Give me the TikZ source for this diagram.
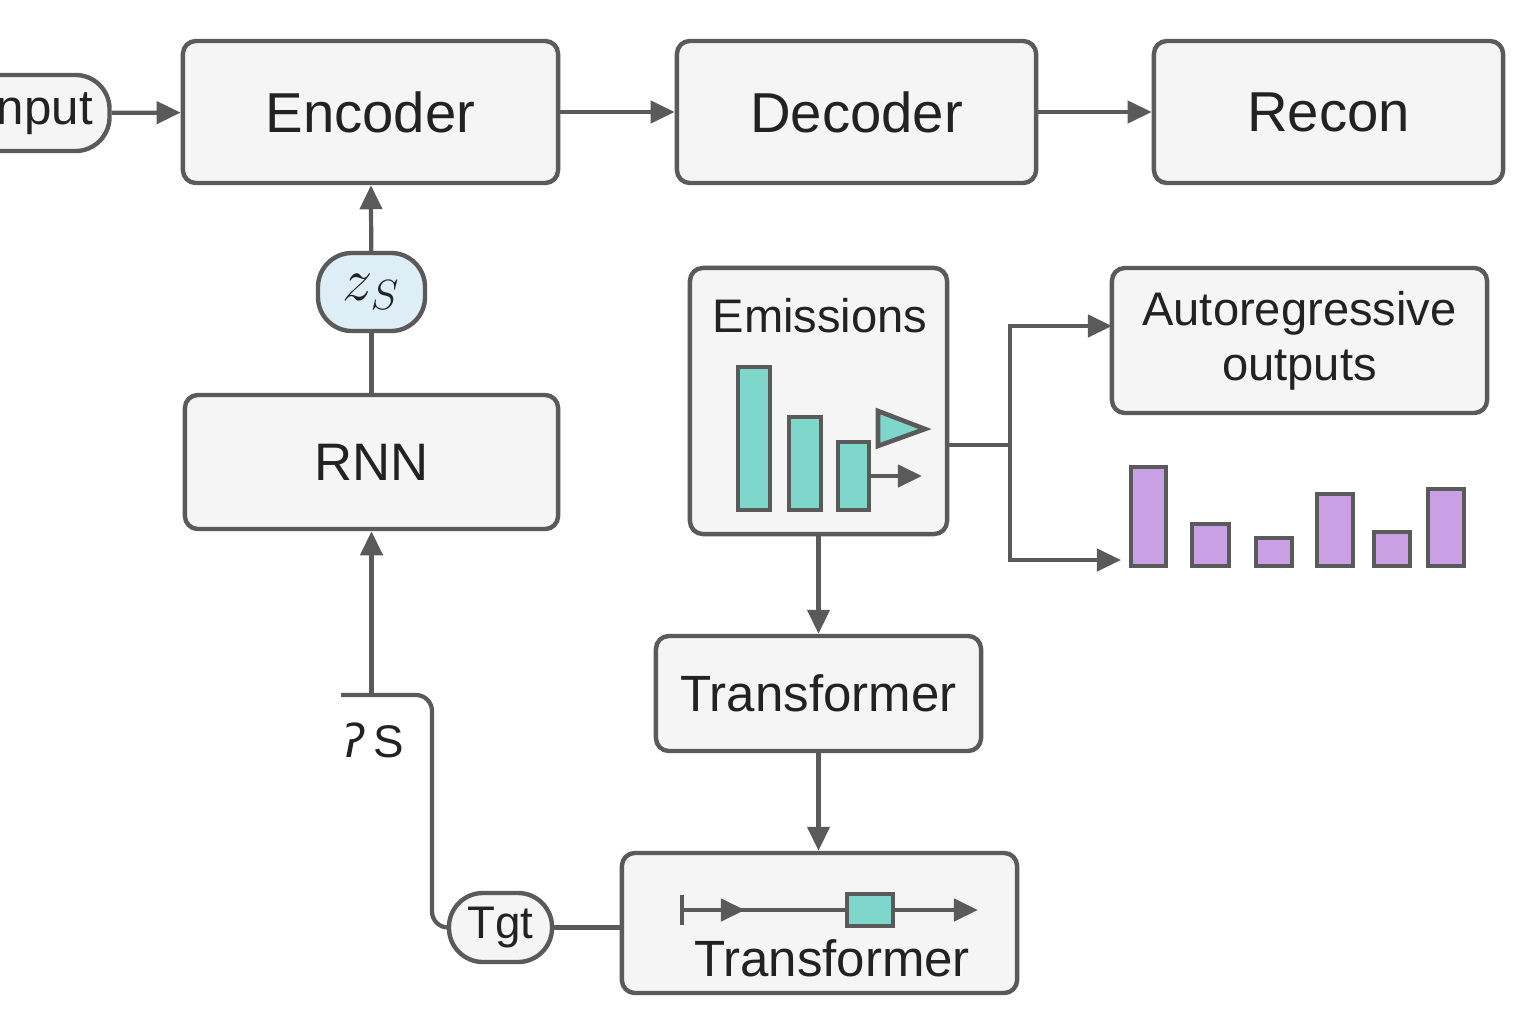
\documentclass[tikz,border=0pt]{standalone}
\usepackage{fontspec}
\setmainfont{Liberation Sans}
\newfontfamily\dejavu{DejaVu Sans}
\usetikzlibrary{arrows.meta}
\definecolor{linegray}{HTML}{5A5A5A}
\definecolor{boxfill}{HTML}{F5F5F5}
\definecolor{textdark}{HTML}{222222}
\definecolor{tealbar}{HTML}{7FD6CA}
\definecolor{purplebar}{HTML}{C9A0E4}
\definecolor{zfill}{HTML}{DDEEF6}
\tikzset{
  box/.style={draw=linegray, fill=boxfill, line width=1.25pt, rounded corners=0.13cm, text=textdark},
  pill/.style={draw=linegray, fill=boxfill, line width=1.25pt, rounded corners=0.34cm, text=textdark},
  bar/.style={draw=linegray, line width=1.3pt},
  title/.style={text=textdark, inner sep=0pt},
  >={Triangle[length=0.24cm,width=0.22cm]},
}
\newcommand{\bigfont}{\fontsize{16}{18}\selectfont}
\newcommand{\midfont}{\fontsize{14.5}{17}\selectfont}
\newcommand{\smallfont}{\fontsize{13.4}{15.6}\selectfont}

\begin{document}
\begin{tikzpicture}[x=0.01cm, y=-0.01cm, color=linegray, line width=1.2pt]
\useasboundingbox (0,0) rectangle (1536,1024);

% top row
\node[pill, minimum width=1.43cm, minimum height=0.76cm, font=\fontsize{14}{16}\selectfont] (input) at (38,113) {Input};
\node[box, minimum width=3.75cm, minimum height=1.42cm, font=\bigfont] (enc) at (370.5,112) {Encoder};
\node[box, minimum width=3.59cm, minimum height=1.42cm, font=\bigfont] (dec) at (856.5,112) {Decoder};
\node[box, minimum width=3.49cm, minimum height=1.42cm, font=\bigfont] (rec) at (1328.5,112) {Recon};

% left column
\node[pill, fill=zfill, minimum width=1.07cm, minimum height=0.78cm, font=\fontsize{18}{20}\selectfont] (zs) at (371.5,292) {$z_S$};
\node[box, minimum width=3.73cm, minimum height=1.34cm, font=\fontsize{15}{18}\selectfont] (rnn) at (371.5,462) {RNN};
\node[title, font=\fontsize{13}{15}\selectfont] (zslabel) at (373,740) {{\dejavu\itshape ʔ}\,S};
\coordinate (join) at (371.5,695);
\coordinate (bend) at (432,695);
\coordinate (loopend) at (341,695);

% emissions block
\node[box, minimum width=2.57cm, minimum height=2.66cm] (emis) at (818.5,401) {};
\node[title, font=\smallfont] (emistitle) at (820,316) {Emissions};
\node[box, minimum width=3.75cm, minimum height=1.45cm, align=center, font=\smallfont] (auto) at (1299.5,340.5) {Autoregressive\\outputs};
\coordinate (split) at (1010,445);
\coordinate (autoin) at (1112,326);
\coordinate (barsin) at (1121,560);

% transformers
\node[box, minimum width=3.25cm, minimum height=1.15cm, font=\midfont] (tr1) at (818.5,693.5) {Transformer};
\node[box, minimum width=3.95cm, minimum height=1.40cm] (tr2) at (819.5,923) {};
\node[title, font=\midfont] (tr2title) at (832,958) {Transformer};
\node[pill, minimum width=1.03cm, minimum height=0.69cm, font=\fontsize{13}{15}\selectfont] (tgt) at (500.5,927.5) {Tgt};

% connectors
\path[->] (input) edge (enc);
\path[->] (enc) edge (dec);
\path[->] (dec) edge (rec);
\path[->] (zs) edge (enc);
\draw (rnn) -- (zs);
\draw[rounded corners=0.16cm] (tgt.west) -| (bend) -- (loopend);
\path[->] (join) edge (rnn.south);
\draw (tgt.east) -- (tgt.east -| tr2.west);
\path[->] (emis) edge (tr1);
\draw[->] (tr1.south) -- (tr1.south |- tr2.north);
\draw (emis.east |- split) -- (split);
\draw[->] (split) |- (autoin);
\draw[->] (split) |- (barsin);

% bars inside emissions
\draw[bar, fill=tealbar] (738,367) rectangle (770,510);
\draw[bar, fill=tealbar] (789,417) rectangle (821,510);
\draw[bar, fill=tealbar] (838,442) rectangle (869,510);
\draw[bar, fill=tealbar] (878,411) -- (878,446) -- (925,429) -- cycle;
\draw[->] (869,476) -- (922,476);

% autoregressive bars
\foreach \xa/\xb/\top in {1131/1166/467, 1192/1229/524, 1256/1292/538, 1317/1353/494, 1374/1410/532, 1428/1464/489}
  \draw[bar, fill=purplebar] (\xa,\top) rectangle (\xb,566);

% sequence inside lower transformer
\draw[{Bar[width=0.3cm]}->] (680,910) -- (978,910);
\draw[->] (680,910) -- (745,910);
\draw[bar, fill=tealbar] (847,894) rectangle (893,926);
\end{tikzpicture}
\end{document}
